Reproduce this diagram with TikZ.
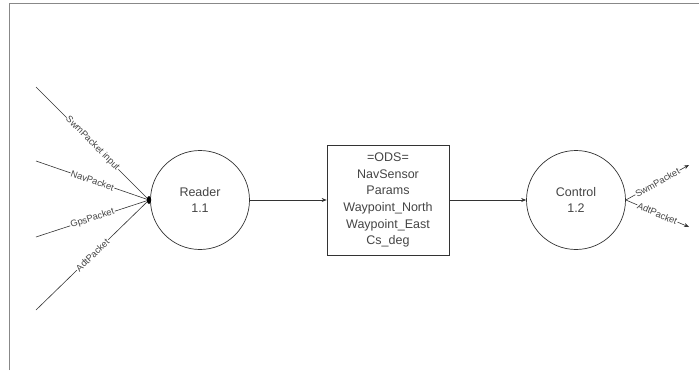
\documentclass[tikz,border=0pt]{standalone}
\usepackage{fontspec}
\setmainfont{Liberation Sans}
\usetikzlibrary{arrows.meta}
\definecolor{txt}{HTML}{444444}
\definecolor{ln}{HTML}{333333}
\definecolor{frame}{HTML}{888888}
\begin{document}
\begin{tikzpicture}[x=1pt,y=-1pt,
  proc/.style={circle,draw=ln,line width=0.7pt,minimum size=99pt,inner sep=0pt,align=center,text=txt,font=\fontsize{12.5}{15.5}\selectfont},
  store/.style={rectangle,draw=ln,line width=0.7pt,minimum width=122pt,minimum height=110pt,inner sep=0pt,align=center,text=txt,font=\fontsize{12.5}{16.7}\selectfont},
  flow/.style={draw=ln,line width=0.6pt},
  arr/.style={flow,-{Stealth[length=5pt,width=4pt]}},
  lbl/.style={midway,sloped,fill=white,inner sep=0.6pt,text=txt,font=\fontsize{9.3}{10}\selectfont}
]
\useasboundingbox (0,0) rectangle (699,370);
\draw[frame,line width=1pt] (9,370) -- (9,3) -- (699,3);

\node[proc] (reader) at (200,200) {Reader\\1.1};
\node[store] (ods) at (388,200) {=ODS=\\NavSensor\\Params\\Waypoint\_North\\Waypoint\_East\\Cs\_deg};
\node[proc] (control) at (576,200) {Control\\1.2};

\coordinate (j) at (149,200);
\coordinate (s1) at (36,87);
\coordinate (s2) at (36,161);
\coordinate (s3) at (36,237);
\coordinate (s4) at (36,310);
\coordinate (o1) at (689,165);
\coordinate (o2) at (689,227);

\draw[flow] (s1) -- (j) node[lbl] {SwmPacket input};
\draw[flow] (s2) -- (j) node[lbl] {NavPacket};
\draw[flow] (s3) -- (j) node[lbl] {GpsPacket};
\draw[flow] (s4) -- (j) node[lbl] {AdtPacket};
\fill[black] (j) ellipse [x radius=2.2pt, y radius=4pt];

\draw[arr] (reader.east) -- (ods.west);
\draw[arr] (ods.east) -- (control.west);

\draw[arr] (control.east) -- (o1) node[lbl] {SwmPacket};
\draw[arr] (control.east) -- (o2) node[lbl] {AdtPacket};
\end{tikzpicture}
\end{document}
